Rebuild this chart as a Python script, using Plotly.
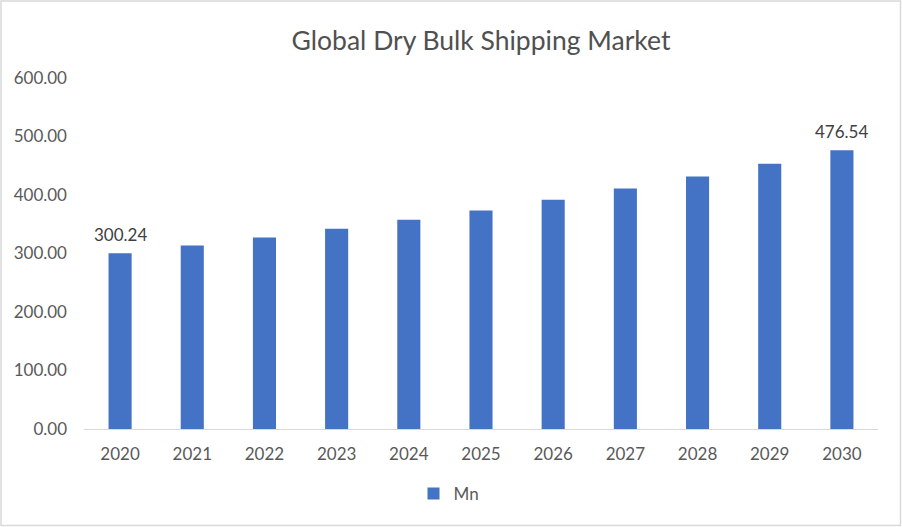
import plotly.graph_objects as go

years = ["2020", "2021", "2022", "2023", "2024", "2025", "2026", "2027", "2028", "2029", "2030"]
values = [300.24, 313.5, 327.5, 342.5, 357.5, 373.5, 392.0, 411.0, 431.5, 453.5, 476.54]
labeled_idx = [0, 10]
y_ticks = [0, 100, 200, 300, 400, 500, 600]

W, H = 902, 527
L, R, T, B = 84, 24, 78, 98
pw, ph = W - L - R, H - T - B

fig = go.Figure()
fig.add_trace(go.Bar(
    x=years, y=values, name="Mn",
    marker=dict(color="#4472C4", line=dict(width=0)),
))

for i in labeled_idx:
    fig.add_annotation(x=i, y=values[i], text=f"{values[i]:.2f}", showarrow=False,
                       yanchor="middle", yshift=19,
                       font=dict(color="#404040", size=17, family="Lato"))

fig.update_layout(
    width=W, height=H,
    margin=dict(l=L, r=R, t=T, b=B),
    paper_bgcolor="white", plot_bgcolor="white",
    font=dict(family="Lato", color="#595959", size=17),
    title=dict(text="Global Dry Bulk Shipping Market", x=(L + pw / 2) / W, xanchor="center",
               y=1 - 41 / H, yanchor="middle",
               font=dict(size=26.5, color="#505050", family="Lato")),
    bargap=0.68,
    showlegend=True,
    legend=dict(orientation="h", x=(449 - L) / pw, xanchor="center", y=-(494 - (T + ph)) / ph,
                yanchor="middle", font=dict(size=17, color="#595959")),
    xaxis=dict(type="category", range=[-0.5, len(years) - 0.5], showgrid=False, showline=True,
               linecolor="#D9D9D9", linewidth=1,
               ticks="", ticklabelstandoff=10, tickfont=dict(size=17, color="#595959")),
    yaxis=dict(range=[0, 600], tickvals=y_ticks, tickformat=".2f", showgrid=False,
               zeroline=False, showline=False, ticks="", ticklabelstandoff=16,
               tickfont=dict(size=17, color="#595959")),
)

# chart border
fig.add_shape(type="rect", xref="paper", yref="paper",
              x0=-(L - 1) / pw, x1=1 + (R - 1.5) / pw,
              y0=-(B - 1.5) / ph, y1=1 + (T - 1) / ph,
              line=dict(color="#D9D9D9", width=1.5), fillcolor="rgba(0,0,0,0)", layer="below")

fig.write_html("out.html")
